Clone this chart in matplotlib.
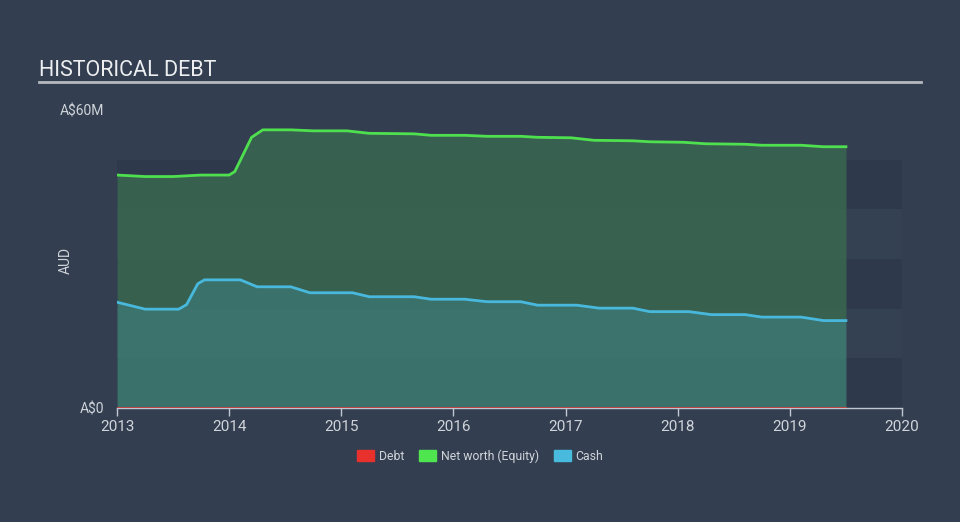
import numpy as np
import matplotlib
matplotlib.use("Agg")
import matplotlib.pyplot as plt
from matplotlib.patches import Patch

plt.rcParams['font.family'] = ['Roboto', 'DejaVu Sans']

# values in A$ millions, dates in decimal years
equity_dates = [2013.0, 2013.25, 2013.5, 2013.75, 2014.0, 2014.05, 2014.2, 2014.3, 2014.55,
                2014.75, 2015.05, 2015.25, 2015.65, 2015.8, 2016.1, 2016.3, 2016.6, 2016.75,
                2017.05, 2017.25, 2017.6, 2017.75, 2018.05, 2018.25, 2018.6, 2018.75, 2019.1,
                2019.3, 2019.5]
equity_vals = [46.9, 46.6, 46.6, 46.9, 46.9, 47.6, 54.5, 56.0, 56.0,
               55.8, 55.8, 55.3, 55.2, 54.9, 54.9, 54.7, 54.7, 54.5,
               54.4, 53.9, 53.8, 53.6, 53.5, 53.2, 53.1, 52.9, 52.9,
               52.6, 52.6]

cash_dates = [2013.0, 2013.25, 2013.55, 2013.62, 2013.72, 2013.78, 2014.1, 2014.25, 2014.55,
              2014.72, 2015.1, 2015.25, 2015.65, 2015.8, 2016.1, 2016.3, 2016.6, 2016.75,
              2017.1, 2017.3, 2017.6, 2017.75, 2018.1, 2018.3, 2018.6, 2018.75, 2019.1,
              2019.3, 2019.5]
cash_vals = [21.3, 19.9, 19.9, 20.8, 25.0, 25.8, 25.8, 24.4, 24.4,
             23.2, 23.2, 22.4, 22.4, 21.9, 21.9, 21.4, 21.4, 20.7,
             20.7, 20.1, 20.1, 19.4, 19.4, 18.8, 18.8, 18.3, 18.3,
             17.6, 17.6]

debt_dates = [2013.0, 2019.5]
debt_vals = [0.0, 0.0]

legend_labels = ["Debt", "Net worth (Equity)", "Cash"]

bg = "#333f50"
band_dark = "#2e3a4b"
band_light = "#344152"
green = "#4fe04f"
blue = "#48b9dd"
red = "#e8302d"
txt = "#d0d4da"

fig = plt.figure(figsize=(9.6, 5.22), dpi=100, facecolor=bg)
ax = fig.add_axes([0.1219, 0.2184, 0.8177, 0.5709])
ax.set_facecolor(bg)

for i in range(5):
    ax.axhspan(i * 10, (i + 1) * 10, color=band_dark if i % 2 == 0 else band_light, lw=0, zorder=0)

ax.fill_between(cash_dates, 0, cash_vals, color="#3e7c71", alpha=0.85, lw=0, zorder=1)
ed = np.union1d(equity_dates, cash_dates)
ax.fill_between(ed, np.interp(ed, cash_dates, cash_vals), np.interp(ed, equity_dates, equity_vals),
                color="#396750", alpha=0.85, lw=0, zorder=1)
ax.plot(equity_dates, equity_vals, color=green, lw=2, zorder=3)
ax.plot(cash_dates, cash_vals, color=blue, lw=2, zorder=3)
ax.plot(debt_dates, debt_vals, color=red, lw=1.5, zorder=3, alpha=0.7)

ax.set_xlim(2013, 2020)
ax.set_ylim(0, 60)
ax.set_xticks(range(2013, 2021))
ax.set_xticklabels([str(y) for y in range(2013, 2021)])
ax.set_yticks([0, 60])
ax.set_yticklabels(["A$0", "A$60M"])
ax.tick_params(axis='x', colors="#c0c7d0", labelcolor=txt, length=6, width=1, labelsize=11, pad=3)
ax.tick_params(axis='y', length=0, labelcolor=txt, labelsize=10, pad=9)
for s in ["top", "right", "left"]:
    ax.spines[s].set_visible(False)
ax.spines["bottom"].set_color("#c0c7d0")
ax.spines["bottom"].set_linewidth(1)

fig.text(66 / 960, 1 - 260 / 522, "AUD", color=txt, fontsize=10, rotation=90, ha="center", va="center")
fig.text(39 / 960, 1 - 70 / 522, "HISTORICAL DEBT", color="#eceef0", fontsize=15.5, va="center", ha="left")
fig.add_artist(plt.Line2D([39 / 960, 921 / 960], [1 - 82 / 522, 1 - 82 / 522], color="#b5b8bd", lw=2))

handles = [Patch(color=red), Patch(color="#4ee54e"), Patch(color="#48bade")]
fig.legend(handles, legend_labels, loc="center", bbox_to_anchor=(0.5, 1 - 456 / 522), ncol=3,
           frameon=False, labelcolor=txt, fontsize=8.8, handlelength=1.4, handleheight=1.0,
           handletextpad=0.4, columnspacing=1.2)

fig.savefig("out.png", dpi=100, facecolor=bg)
